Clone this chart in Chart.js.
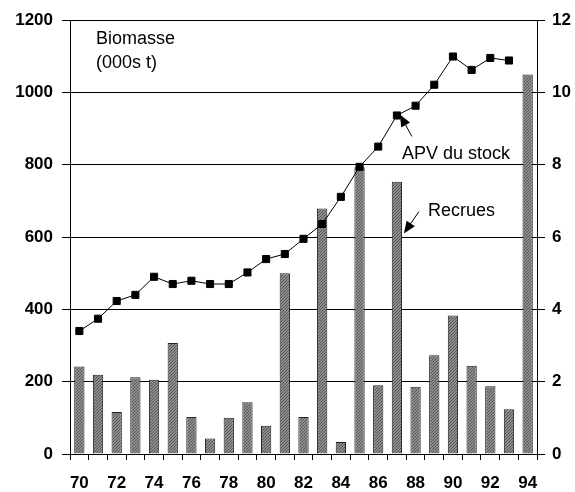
<!DOCTYPE html>
<html>
<head>
<meta charset="utf-8">
<script src="https://cdn.jsdelivr.net/npm/chart.js@4"></script>
<style>
  html, body { margin: 0; padding: 0; background: #fff; }
  #wrap { width: 575px; height: 492px; }
</style>
</head>
<body>
<div id="wrap"><canvas id="my-chart" width="575" height="492"></canvas></div>
<script>
// years (19xx)
var years = ['70','71','72','73','74','75','76','77','78','79','80','81','82','83','84','85','86','87','88','89','90','91','92','93','94'];
// APV du stock, biomasse (000s t), left axis
var biomasse = [340, 374, 423, 440, 490, 470, 479, 470, 470, 502, 539, 553, 595, 636, 711, 794, 850, 936, 963, 1021, 1099, 1062, 1095, 1088, null];
// Recrues, right axis
var recrues = [2.42, 2.19, 1.16, 2.12, 2.05, 3.07, 1.02, 0.43, 1.0, 1.43, 0.78, 5.0, 1.02, 6.79, 0.33, 7.93, 1.9, 7.53, 1.86, 2.73, 3.83, 2.44, 1.87, 1.24, 10.49];

var FONT = '"Liberation Sans", Arial, sans-serif';

// hatched grey fill for the bars
function hatch() {
  var c = document.createElement('canvas');
  c.width = 3; c.height = 3;
  var g = c.getContext('2d');
  g.fillStyle = '#8e8e8e';
  g.fillRect(0, 0, 3, 3);
  g.fillStyle = '#555';
  for (var i = 0; i < 3; i++) g.fillRect(i, 2 - i, 1, 1);
  return g.createPattern(c, 'repeat');
}

function arrow(ctx, x1, y1, x2, y2) {
  var a = Math.atan2(y2 - y1, x2 - x1), L = 12, W = 5;
  ctx.beginPath();
  ctx.moveTo(x1, y1);
  ctx.lineTo(x2 - Math.cos(a) * L * 0.8, y2 - Math.sin(a) * L * 0.8);
  ctx.stroke();
  ctx.beginPath();
  ctx.moveTo(x2, y2);
  ctx.lineTo(x2 - Math.cos(a) * L - Math.sin(a) * W, y2 - Math.sin(a) * L + Math.cos(a) * W);
  ctx.lineTo(x2 - Math.cos(a) * L + Math.sin(a) * W, y2 - Math.sin(a) * L - Math.cos(a) * W);
  ctx.closePath();
  ctx.fill();
}

var notes = {
  id: 'notes',
  afterDatasetsDraw: function(chart) {
    var ctx = chart.ctx, x = chart.scales.x, y = chart.scales.y, y1 = chart.scales.y1;
    ctx.save();
    ctx.fillStyle = '#000';
    ctx.strokeStyle = '#000';
    ctx.lineWidth = 1;
    ctx.font = '18px ' + FONT;
    ctx.textBaseline = 'alphabetic';
    ctx.fillText('Biomasse', 96, 44);
    ctx.fillText('(000s t)', 96, 68);
    ctx.fillText('APV du stock', 402, 159);
    ctx.fillText('Recrues', 428, 216);
    // arrow to APV marker (1987)
    var px = x.getPixelForValue(17), py = y.getPixelForValue(biomasse[17]);
    arrow(ctx, px + 15, py + 21, px + 3, py - 1);
    // arrow to Recrues bar (1987)
    arrow(ctx, px + 22, y1.getPixelForValue(6.7), px + 7, y1.getPixelForValue(6.1));
    ctx.restore();
  }
};

var chart1 = document.getElementById('my-chart').getContext('2d');
var myChart = new Chart(chart1, {
  data: {
    labels: years,
    datasets: [{
      type: 'line',
      label: 'APV du stock',
      data: biomasse,
      yAxisID: 'y',
      order: 0,
      borderColor: '#000',
      borderWidth: 1,
      pointStyle: 'rect',
      pointRadius: 5,
      pointBackgroundColor: '#000',
      pointBorderColor: '#000',
      pointBorderWidth: 1,
      tension: 0,
      spanGaps: false
    }, {
      type: 'bar',
      label: 'Recrues',
      data: recrues,
      yAxisID: 'y1',
      order: 1,
      backgroundColor: hatch(),
      borderColor: '#222',
      borderWidth: 1,
      barPercentage: 0.55,
      categoryPercentage: 1
    }]
  },
  options: {
    responsive: false,
    animation: false,
    layout: { padding: { top: 20, left: 0, right: 0, bottom: 0 } },
    plugins: { legend: { display: false }, tooltip: { enabled: false } },
    scales: {
      x: {
        offset: true,
        grid: { offset: true, drawOnChartArea: false, drawTicks: true, tickLength: 6, color: '#000' },
        border: { color: '#000', width: 1 },
        ticks: {
          autoSkip: false, maxRotation: 0, padding: 13, color: '#000',
          font: { family: FONT, size: 17, weight: 'bold' },
          callback: function(v, i) { return i % 2 === 0 ? this.getLabelForValue(v) : ''; }
        },
        afterFit: function(s) { s.height = 38; }
      },
      y: {
        position: 'left',
        min: 0, max: 1200,
        grid: { color: '#000', lineWidth: 1, tickLength: 8 },
        border: { color: '#000', width: 1 },
        ticks: {
          stepSize: 200, padding: 9, color: '#000',
          font: { family: FONT, size: 17, weight: 'bold' },
          callback: function(v) { return String(v); }
        },
        afterFit: function(s) { s.width = 70; }
      },
      y1: {
        position: 'right',
        min: 0, max: 12,
        grid: { drawOnChartArea: false, color: '#000', tickLength: 8 },
        border: { color: '#000', width: 1 },
        ticks: {
          stepSize: 2, padding: 7, color: '#000',
          font: { family: FONT, size: 17, weight: 'bold' },
          callback: function(v) { return String(v); }
        },
        afterFit: function(s) { s.width = 38; }
      }
    }
  },
  plugins: [notes]
});
</script>
</body>
</html>
